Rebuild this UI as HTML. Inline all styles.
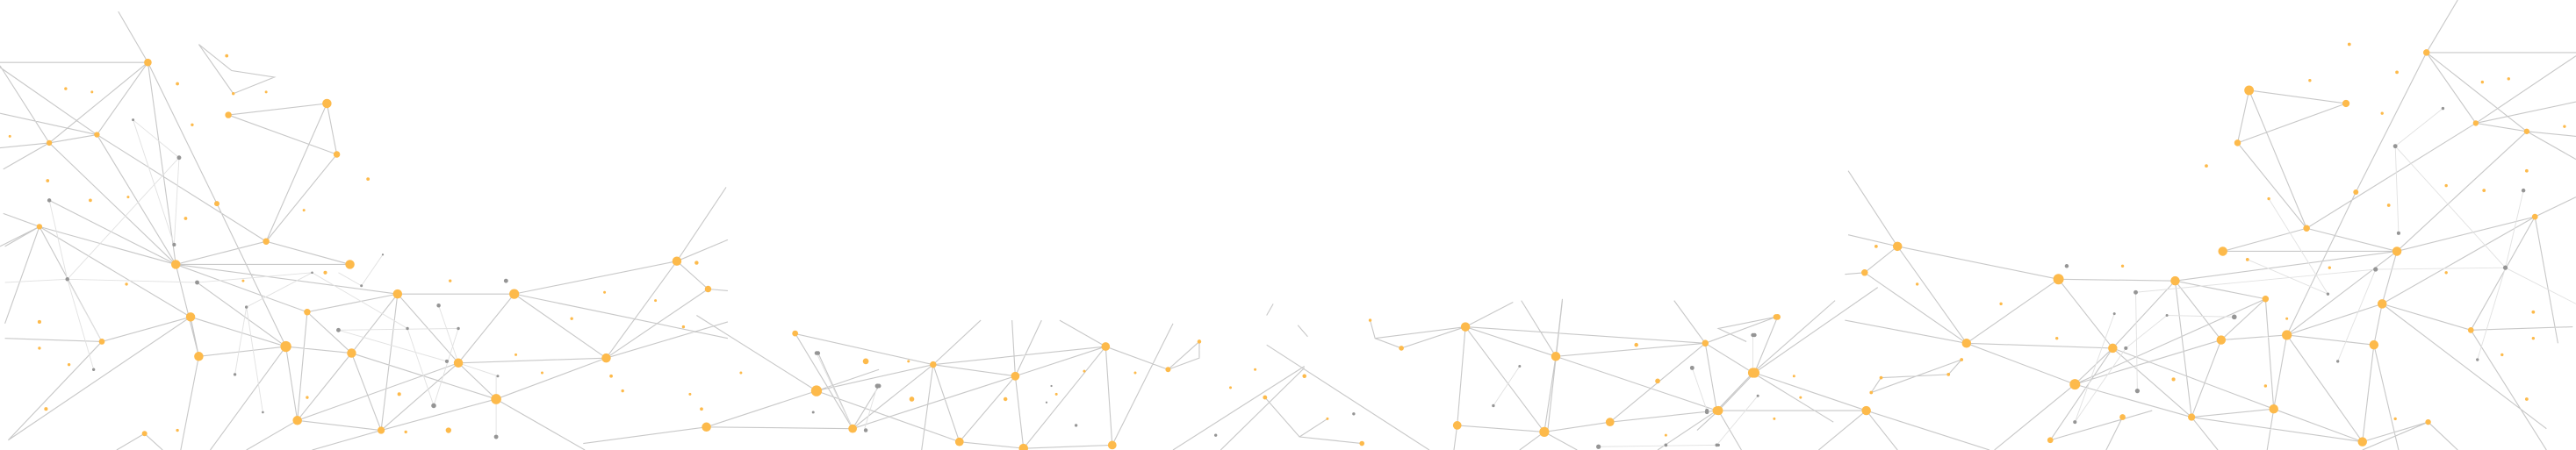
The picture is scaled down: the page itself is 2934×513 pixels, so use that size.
<!DOCTYPE html>
<html><head><meta charset="utf-8"><style>
html,body{margin:0;padding:0;background:#fff;width:2934px;height:513px;overflow:hidden}
svg{display:block}
</style></head><body>
<svg width="2934" height="513" viewBox="0 0 1568 274" preserveAspectRatio="none" xmlns="http://www.w3.org/2000/svg">
<g fill="none" stroke="#c8c8c8" stroke-width="0.6">
<path d="M0 38L90 38M90 38L72 7M90 38L30 87M90 38L59 82M90 38L107 161M90 38L132 124L174 211M0 41L59 82M59 82L107 161M59 82L162 147M30 87L0 90M30 87L59 82M0 40L30 87L107 161M30 87L2 103M0 69L59 82
M121 27L141 43L167 47L142 57L121 27M139 70L199 63L205 94L139 70M199 63L162 147M205 94L162 147M107 161L162 147L213 161M107 161L213 161
M24 138L107 161M2 130L24 138M24 138L116 193M24 138L62 208M24 138L3 197M24 138L3 150M107 161L242 179M107 161L187 190M107 161L121 217
M30 122L107 161M116 193L174 211M116 193L121 217M116 193L62 208M116 193L5 268M174 211L121 217M174 211L214 215M174 211L181 256M174 211L128 274M120 172L174 211
M187 190L242 179M187 190L214 215M187 190L181 256M242 179L313 179M242 179L279 221M242 179L232 262M242 179L214 215
M313 179L412 159M313 179L369 218M313 179L279 221M313 179L443 206M412 159L442 114M412 159L443 146M412 159L431 176L443 177M412 159L369 218M431 176L369 218
M369 218L279 221M369 218L302 243M369 218L443 196M279 221L302 243M279 221L232 262M214 215L302 243M214 215L181 256M214 215L232 262M302 243L232 262M302 243L356 274M181 256L232 262M181 256L279 221M232 262L190 274M181 256L150 274M121 217L110 274
M497 238L430 260M497 238L424 192M497 238L535 225M430 260L519 261M430 260L355 270M484 203L519 261M519 261L498 215M519 261L535 235M62 208L3 206M62 208L5 268M88 264L71 274M88 264L99 274M24 138L0 150
M483 203L568 222M568 222L673 211M568 222L618 229M618 229L673 211M673 211L677 271M673 211L623 273M618 229L623 273M618 229L584 269M568 222L584 269M568 222L519 261M568 222L597 195M568 222L561 274M497 238L568 222M497 238L584 269M519 261L618 229M584 269L623 273M623 273L677 271M673 211L711 225L730 208L730 218L711 225M677 271L714 197M618 229L634 195M618 229L616 195M673 211L645 195
M771 210L870 274M794 223L714 274M794 224L743 274M775 185L771 192M790 198L796 205M770 242L791 266L829 270M808 255L791 266
M834 195L837 206L853 212L892 199M837 206L892 199M892 199L947 217M892 199L1038 209M892 199L940 263M892 199L921 184M947 217L1038 209M947 217L940 263M947 217L1045 250M947 217L951 182M947 217L926 183M1038 209L1081 193M1038 209L1045 250M1038 209L1067 227M1038 209L1019 183M1038 209L980 257M1067 227L1045 250M1067 227L1117 183M1067 227L1116 257M1045 250L1110 250M1045 250L1009 274M1045 250L980 257M940 263L887 259M940 263L980 257M887 259L892 199M951 183L942 263M1081 193L1046 200L1063 208M940 263L925 274M940 263L960 274M887 259L885 274
M1477 32L1496 0M1477 32L1568 32M1477 32L1434 117L1392 204M1477 32L1507 75L1538 80M1477 32L1538 80M1507 75L1568 62M1538 80L1568 83M1538 80L1568 97M1538 80L1459 153M1568 34L1507 75M1507 75L1404 139M1369 55L1428 63L1362 87L1369 55M1369 55L1404 139M1362 87L1404 139M1404 139L1353 153M1404 139L1459 153M1353 153L1459 153M1459 153L1543 132M1543 132L1568 120M1543 132L1504 201M1543 132L1557 209M1459 153L1392 204M1450 185L1459 153M1450 185L1543 132M1450 185L1445 210M1450 185L1392 204M1450 185L1504 201M1450 185L1550 261
M1392 204L1445 210M1392 204L1352 207M1392 204L1384 249M1392 204L1438 269M1379 182L1352 207M1379 182L1324 171M1379 182L1384 249M1379 182L1263 234M1324 171L1253 170M1324 171L1286 212M1324 171L1352 207M1324 171L1334 254M1324 171L1459 153M1253 170L1155 150M1253 170L1197 209M1253 170L1286 212M1155 150L1125 104M1155 150L1125 143M1155 150L1197 209M1155 150L1135 166M1135 166L1197 209M1135 166L1123 167M1197 209L1286 212M1197 209L1263 234M1197 209L1123 195M1286 212L1263 234M1286 212L1334 254M1286 212L1384 249M1286 212L1248 268M1263 234L1334 254M1263 234L1352 207M1263 234L1214 274M1352 207L1334 254M1334 254L1384 249M1334 254L1438 269M1384 249L1438 269M1445 210L1438 269M1504 201L1566 199M1504 201L1550 274M1445 210L1460 274M1384 249L1380 274M1334 254L1350 274
M1068 227L1082 193M1068 227L1046 250M1068 227L1136 250M1068 227L1143 175M1046 250L1136 250M1136 250L1211 274M1136 250L1107 274M1136 250L1155 274M1046 250L1060 274M1046 250L1033 262M1438 269L1478 257L1496 274M1478 257L1438 274M1292 254L1282 274M1248 268L1310 250
M1145 230L1139 239L1194 219L1186 228L1145 230"/>
</g>
<g fill="none" stroke="#e2e2e2" stroke-width="0.5">
<path d="M41 170L109 96M109 96L106 149M81 73L109 96M81 73L106 149M30 122L41 170L62 208M41 170L120 172M3 172L41 170M190 166L120 172M190 166L150 187L143 228M190 166L248 200M220 174L233 155M220 174L206 166M206 201L279 200M206 201L272 220M267 186L279 221M248 200L264 247M279 200L264 247M302 229L302 266M279 221L303 229M150 187L160 251M57 225L41 170M1487 66L1458 89M1458 89L1460 142M1458 89L1525 163M1525 163L1536 116M1525 163L1568 185M1525 163L1508 219M1446 164L1525 163M1446 164L1300 178M1446 164L1423 220M1417 179L1368 158M1294 212L1319 192L1360 193M1287 191L1263 257M1300 178L1301 238M1263 257L1294 212M497 215L519 261M534 235L526 262M1067 204L1067 227M1030 224L1039 250M1070 241L1045 271M973 272L1045 271M925 223L909 247M1381 121L1417 179"/>
</g>
<g fill="#fdba4b">
<circle cx="90" cy="38" r="2.3"/><circle cx="199" cy="63" r="2.8"/><circle cx="139" cy="70" r="2"/><circle cx="205" cy="94" r="2"/><circle cx="59" cy="82" r="1.7"/><circle cx="30" cy="87" r="1.7"/><circle cx="24" cy="138" r="1.7"/><circle cx="107" cy="161" r="2.8"/><circle cx="162" cy="147" r="2"/><circle cx="213" cy="161" r="2.8"/><circle cx="132" cy="124" r="1.6"/><circle cx="242" cy="179" r="2.8"/><circle cx="313" cy="179" r="3"/><circle cx="187" cy="190" r="2"/><circle cx="116" cy="193" r="2.8"/><circle cx="174" cy="211" r="3.3"/><circle cx="214" cy="215" r="2.8"/><circle cx="121" cy="217" r="2.8"/><circle cx="62" cy="208" r="1.8"/><circle cx="279" cy="221" r="2.8"/><circle cx="369" cy="218" r="2.8"/><circle cx="412" cy="159" r="2.8"/><circle cx="431" cy="176" r="2"/><circle cx="302" cy="243" r="3.1"/><circle cx="181" cy="256" r="2.8"/><circle cx="232" cy="262" r="2.2"/><circle cx="273" cy="262" r="1.7"/><circle cx="430" cy="260" r="2.8"/><circle cx="497" cy="238" r="3.3"/><circle cx="519" cy="261" r="2.6"/><circle cx="484" cy="203" r="1.8"/><circle cx="527" cy="220" r="1.8"/><circle cx="88" cy="264" r="1.6"/>
<circle cx="568" cy="222" r="2"/><circle cx="618" cy="229" r="2.6"/><circle cx="673" cy="211" r="2.6"/><circle cx="711" cy="225" r="1.6"/><circle cx="730" cy="208" r="1.2"/><circle cx="584" cy="269" r="2.6"/><circle cx="623" cy="273" r="2.8"/><circle cx="677" cy="271" r="2.6"/><circle cx="892" cy="199" r="2.8"/><circle cx="947" cy="217" r="2.8"/><circle cx="996" cy="210" r="1.2"/><circle cx="1038" cy="209" r="2"/><circle cx="1067" cy="227" r="3"/><circle cx="1045" cy="250" r="2.6"/><circle cx="940" cy="263" r="3"/><circle cx="980" cy="257" r="2.6"/><circle cx="887" cy="259" r="2.6"/><circle cx="853" cy="212" r="1.5"/><circle cx="1081" cy="193" r="1.7"/><circle cx="1009" cy="232" r="1.5"/><circle cx="555" cy="243" r="1.5"/><circle cx="612" cy="243" r="1.2"/><circle cx="794" cy="229" r="1.2"/><circle cx="770" cy="242" r="1.3"/><circle cx="829" cy="270" r="1.5"/>
<circle cx="1477" cy="32" r="2"/><circle cx="1369" cy="55" r="2.9"/><circle cx="1428" cy="63" r="2.2"/><circle cx="1362" cy="87" r="2"/><circle cx="1507" cy="75" r="1.7"/><circle cx="1538" cy="80" r="1.7"/><circle cx="1434" cy="117" r="1.6"/><circle cx="1404" cy="139" r="2"/><circle cx="1353" cy="153" r="2.8"/><circle cx="1459" cy="153" r="2.8"/><circle cx="1543" cy="132" r="1.8"/><circle cx="1155" cy="150" r="2.8"/><circle cx="1135" cy="166" r="2"/><circle cx="1253" cy="170" r="3.2"/><circle cx="1324" cy="171" r="2.8"/><circle cx="1379" cy="182" r="2"/><circle cx="1450" cy="185" r="2.8"/><circle cx="1197" cy="209" r="2.8"/><circle cx="1286" cy="212" r="2.8"/><circle cx="1352" cy="207" r="2.8"/><circle cx="1392" cy="204" r="3"/><circle cx="1445" cy="210" r="2.8"/><circle cx="1504" cy="201" r="1.8"/><circle cx="1068" cy="227" r="3"/><circle cx="1263" cy="234" r="3.2"/><circle cx="1136" cy="250" r="2.8"/><circle cx="1046" cy="250" r="2.8"/><circle cx="1384" cy="249" r="2.8"/><circle cx="1334" cy="254" r="2.2"/><circle cx="1438" cy="269" r="2.8"/><circle cx="1478" cy="257" r="1.7"/><circle cx="1292" cy="254" r="1.8"/><circle cx="1248" cy="268" r="1.8"/><circle cx="1082" cy="193" r="1.8"/><circle cx="1038" cy="209" r="1.8"/>
</g>
<g fill="#fdba4b">
<circle cx="138" cy="34" r="1"/><circle cx="108" cy="51" r="1"/><circle cx="40" cy="54" r="0.9"/><circle cx="56" cy="56" r="0.8"/><circle cx="162" cy="56" r="0.8"/><circle cx="142" cy="57" r="0.9"/><circle cx="117" cy="76" r="0.9"/><circle cx="6" cy="83" r="0.8"/><circle cx="29" cy="110" r="1"/><circle cx="55" cy="122" r="1"/><circle cx="78" cy="120" r="0.8"/><circle cx="113" cy="133" r="1"/><circle cx="185" cy="128" r="0.8"/><circle cx="224" cy="109" r="1"/><circle cx="198" cy="166" r="1.1"/><circle cx="77" cy="173" r="0.9"/><circle cx="148" cy="171" r="0.8"/><circle cx="274" cy="171" r="0.9"/><circle cx="424" cy="160" r="1.2"/><circle cx="399" cy="183" r="0.8"/><circle cx="348" cy="194" r="0.9"/><circle cx="24" cy="196" r="1.1"/><circle cx="24" cy="212" r="0.9"/><circle cx="42" cy="222" r="0.9"/><circle cx="28" cy="249" r="1.1"/><circle cx="243" cy="240" r="1.1"/><circle cx="187" cy="242" r="0.9"/><circle cx="372" cy="229" r="1"/><circle cx="379" cy="238" r="0.9"/><circle cx="420" cy="240" r="0.8"/><circle cx="427" cy="249" r="1"/><circle cx="314" cy="216" r="0.8"/><circle cx="330" cy="227" r="0.8"/><circle cx="416" cy="199" r="0.9"/><circle cx="368" cy="178" r="0.8"/><circle cx="451" cy="227" r="0.8"/><circle cx="247" cy="263" r="0.9"/><circle cx="108" cy="262" r="0.9"/>
<circle cx="553" cy="220" r="0.8"/><circle cx="691" cy="227" r="0.8"/><circle cx="808" cy="255" r="0.8"/><circle cx="834" cy="195" r="0.9"/><circle cx="1080" cy="255" r="0.8"/><circle cx="1096" cy="242" r="0.8"/><circle cx="643" cy="240" r="0.8"/><circle cx="660" cy="226" r="0.8"/><circle cx="749" cy="236" r="0.8"/><circle cx="764" cy="225" r="0.8"/><circle cx="1014" cy="265" r="0.8"/>
<circle cx="1430" cy="27" r="1"/><circle cx="1459" cy="44" r="1"/><circle cx="1511" cy="50" r="0.9"/><circle cx="1527" cy="48" r="0.9"/><circle cx="1406" cy="49" r="0.9"/><circle cx="1450" cy="69" r="0.9"/><circle cx="1561" cy="77" r="0.9"/><circle cx="1343" cy="101" r="1"/><circle cx="1538" cy="104" r="1"/><circle cx="1489" cy="113" r="0.9"/><circle cx="1512" cy="116" r="1"/><circle cx="1454" cy="125" r="1"/><circle cx="1381" cy="121" r="0.9"/><circle cx="1368" cy="158" r="1"/><circle cx="1418" cy="163" r="0.9"/><circle cx="1489" cy="166" r="0.9"/><circle cx="1142" cy="150" r="1"/><circle cx="1167" cy="173" r="0.9"/><circle cx="1292" cy="162" r="0.9"/><circle cx="1218" cy="185" r="0.9"/><circle cx="1323" cy="231" r="1.1"/><circle cx="1542" cy="190" r="1"/><circle cx="1542" cy="206" r="0.9"/><circle cx="1523" cy="216" r="0.9"/><circle cx="1538" cy="243" r="1"/><circle cx="1379" cy="235" r="0.9"/><circle cx="1252" cy="206" r="0.9"/><circle cx="1092" cy="229" r="0.8"/><circle cx="1392" cy="194" r="0.8"/><circle cx="1458" cy="255" r="0.9"/><circle cx="1194" cy="219" r="1"/><circle cx="1186" cy="228" r="1"/><circle cx="1145" cy="230" r="1"/><circle cx="1139" cy="239" r="1"/>
</g>
<g fill="#959595">
<circle cx="109" cy="96" r="1.3"/><circle cx="81" cy="73" r="0.8"/><circle cx="30" cy="122" r="1.2"/><circle cx="106" cy="149" r="1.1"/><circle cx="41" cy="170" r="1.2"/><circle cx="120" cy="172" r="1.3"/><circle cx="190" cy="166" r="0.7"/><circle cx="220" cy="174" r="0.8"/><circle cx="233" cy="155" r="0.6"/><circle cx="308" cy="171" r="1.3"/><circle cx="267" cy="186" r="1.2"/><circle cx="248" cy="200" r="0.9"/><circle cx="279" cy="200" r="0.9"/><circle cx="206" cy="201" r="1.3"/><circle cx="272" cy="220" r="1.1"/><circle cx="303" cy="229" r="0.8"/><circle cx="264" cy="247" r="1.5"/><circle cx="302" cy="266" r="1.3"/><circle cx="150" cy="187" r="0.9"/><circle cx="57" cy="225" r="0.9"/><circle cx="143" cy="228" r="0.9"/><circle cx="160" cy="251" r="0.7"/><circle cx="498" cy="215" r="1.2"/><circle cx="527" cy="262" r="1.2"/><circle cx="535" cy="235" r="1.3"/>
<circle cx="497" cy="215" r="1.2"/><circle cx="534" cy="235" r="1.4"/><circle cx="495" cy="251" r="0.8"/><circle cx="655" cy="259" r="0.9"/><circle cx="740" cy="265" r="0.9"/><circle cx="824" cy="252" r="0.9"/><circle cx="925" cy="223" r="0.8"/><circle cx="909" cy="247" r="0.9"/><circle cx="1067" cy="204" r="1.2"/><circle cx="1030" cy="224" r="1.3"/><circle cx="1039" cy="250" r="1.1"/><circle cx="1070" cy="241" r="0.8"/><circle cx="973" cy="272" r="1.4"/><circle cx="1014" cy="271" r="1"/><circle cx="1045" cy="271" r="1"/><circle cx="640" cy="235" r="0.6"/><circle cx="637" cy="245" r="0.6"/>
<circle cx="1487" cy="66" r="0.9"/><circle cx="1458" cy="89" r="1.3"/><circle cx="1536" cy="116" r="1.2"/><circle cx="1460" cy="142" r="1.1"/><circle cx="1446" cy="164" r="1.4"/><circle cx="1525" cy="163" r="1.4"/><circle cx="1258" cy="162" r="1.2"/><circle cx="1300" cy="178" r="1.3"/><circle cx="1360" cy="193" r="1.5"/><circle cx="1294" cy="212" r="1.1"/><circle cx="1417" cy="179" r="0.9"/><circle cx="1423" cy="220" r="0.9"/><circle cx="1301" cy="238" r="1.4"/><circle cx="1263" cy="257" r="1.1"/><circle cx="1068" cy="204" r="1.2"/><circle cx="1039" cy="251" r="1.2"/><circle cx="1508" cy="219" r="0.9"/><circle cx="1046" cy="271" r="0.9"/><circle cx="1287" cy="191" r="0.8"/><circle cx="1319" cy="192" r="0.8"/>
</g>
</svg>
</body></html>
